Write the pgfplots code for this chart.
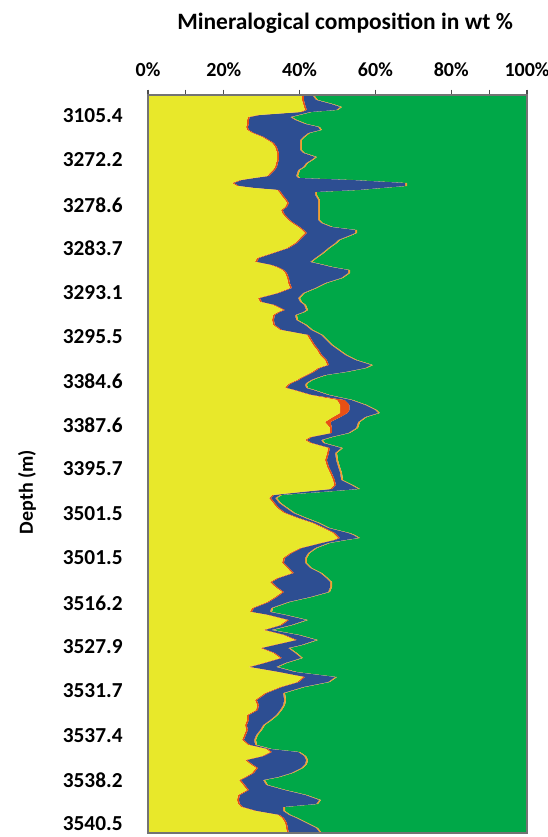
\documentclass[border=0pt]{standalone}
\usepackage{pgfplots}
\usepackage{pgfplotstable}
\pgfplotsset{compat=1.18}
\usepackage{fontspec}
\setmainfont{Carlito}
\definecolor{cyel}{RGB}{232,232,42}
\definecolor{cred}{RGB}{232,80,20}
\definecolor{cblu}{RGB}{45,78,146}
\definecolor{cora}{RGB}{240,160,50}
\definecolor{cgre}{RGB}{0,168,72}
\pgfplotstableread{
pos yel red blu ora gre
0 40.63 0.5 2.17 0.5 56.20
5 40.63 0.5 3.22 0.5 55.15
9 40.90 0.5 6.91 0.5 51.19
12 41.16 0.5 9.03 0.5 48.81
15 41.42 0.5 7.71 0.5 49.87
17 40.11 0.5 2.16 0.5 56.73
20 29.02 0.5 10.09 0.5 59.89
22 26.39 0.5 10.60 0.5 62.01
25 26.12 0.5 12.19 0.5 60.69
29 26.12 0.5 14.83 0.5 58.05
32 25.86 0.5 18.52 0.5 54.62
35 26.12 0.5 18.79 0.5 54.09
38 27.44 0.5 14.30 0.5 57.26
42 30.08 0.5 10.34 0.5 58.58
45 31.40 0.5 8.23 0.5 59.37
48 32.72 0.5 6.91 0.5 59.37
52 33.51 0.5 6.12 0.5 59.37
55 33.77 0.5 5.86 0.5 59.37
58 34.04 0.5 6.38 0.5 58.58
62 34.04 0.5 9.55 0.5 55.41
65 34.04 0.5 8.50 0.5 56.46
68 33.77 0.5 7.45 0.5 57.78
72 33.51 0.5 6.91 0.5 58.58
75 32.98 0.5 6.13 0.5 59.89
78 32.19 0.5 6.65 0.5 60.16
81 31.40 0.5 7.18 0.5 60.42
83 27.70 0.5 11.41 0.5 59.89
85 24.27 0.5 28.82 0.5 45.91
88 22.16 0.5 45.18 0.5 31.66
91 23.48 0.5 43.86 0.5 31.66
93 27.70 0.5 33.31 0.5 37.99
95 34.04 0.5 20.90 0.5 44.06
97 34.56 0.5 9.03 0.5 55.41
100 35.09 0.5 8.50 0.5 55.41
105 36.15 0.5 8.23 0.5 54.62
108 36.68 0.5 7.70 0.5 54.62
112 36.15 0.5 8.23 0.5 54.62
115 35.09 0.5 9.29 0.5 54.62
118 35.36 0.5 9.02 0.5 54.62
122 36.15 0.5 8.23 0.5 54.62
125 36.94 0.5 7.44 0.5 54.62
128 37.99 0.5 7.18 0.5 53.83
132 39.58 0.5 8.23 0.5 51.19
135 40.63 0.5 13.52 0.5 44.85
138 41.42 0.5 12.73 0.5 44.85
141 40.63 0.5 11.67 0.5 46.70
145 39.58 0.5 10.08 0.5 49.34
148 38.79 0.5 10.08 0.5 50.13
153 36.68 0.5 10.34 0.5 51.98
158 32.72 0.5 12.72 0.5 53.56
163 28.76 0.5 14.83 0.5 55.41
167 28.23 0.5 14.04 0.5 56.73
170 32.19 0.5 13.51 0.5 53.30
172 33.77 0.5 14.04 0.5 51.19
175 35.36 0.5 16.94 0.5 46.70
178 36.15 0.5 16.15 0.5 46.70
183 36.68 0.5 13.77 0.5 48.55
188 36.94 0.5 9.29 0.5 52.77
193 37.47 0.5 6.12 0.5 55.41
198 34.04 0.5 6.38 0.5 58.58
203 29.02 0.5 10.09 0.5 59.89
207 29.55 0.5 10.08 0.5 59.37
210 32.98 0.5 7.71 0.5 58.31
215 35.62 0.5 5.60 0.5 57.78
217 34.30 0.5 6.12 0.5 58.58
220 32.98 0.5 5.33 0.5 60.69
225 32.72 0.5 5.86 0.5 60.42
230 32.98 0.5 7.97 0.5 58.05
235 34.83 0.5 7.71 0.5 56.46
240 41.95 0.5 3.22 0.5 53.83
245 42.74 0.5 3.75 0.5 52.51
250 43.54 0.5 4.27 0.5 51.19
255 44.59 0.5 5.07 0.5 49.34
260 45.38 0.5 6.13 0.5 47.49
265 46.70 0.5 7.45 0.5 44.85
270 47.23 0.5 11.14 0.5 40.63
273 44.85 0.5 11.93 0.5 42.22
277 43.27 0.5 8.24 0.5 47.49
280 41.69 0.5 4.54 0.5 52.77
283 40.11 0.5 3.74 0.5 55.15
285 39.31 0.5 3.23 0.5 56.46
288 37.47 0.5 3.75 0.5 57.78
290 36.68 0.5 4.27 0.5 58.05
293 36.15 0.5 5.07 0.5 57.78
295 38.26 0.5 4.80 0.5 55.94
300 42.74 0.5 4.28 0.5 51.98
305 49.87 2.0 1.72 0.5 45.91
310 50.66 2.5 4.12 0.5 42.22
315 50.66 2.5 6.76 0.5 39.58
318 50.66 2.0 8.05 0.5 38.79
322 48.81 2.0 6.47 0.5 42.22
327 46.70 1.5 7.24 0.5 44.06
333 48.02 0.5 6.39 0.5 44.59
338 48.02 0.5 4.28 0.5 46.70
342 42.74 0.5 5.07 0.5 51.19
345 41.42 0.5 3.75 0.5 53.83
348 42.74 0.5 2.96 0.5 53.30
353 47.49 0.5 2.96 0.5 48.55
358 47.23 0.5 1.64 0.5 50.13
365 46.70 0.5 2.43 0.5 49.87
372 47.23 0.5 2.43 0.5 49.34
378 48.02 0.5 2.17 0.5 48.81
385 48.81 0.5 1.64 0.5 48.55
390 49.08 0.5 4.01 0.5 45.91
394 48.02 0.5 6.92 0.5 44.06
397 40.11 0.5 5.06 0.5 53.83
400 32.72 0.5 1.64 0.5 64.64
403 31.93 0.5 1.11 0.5 65.96
408 32.98 0.5 1.11 0.5 64.91
413 34.04 0.5 1.90 0.5 63.06
418 35.88 0.5 1.91 0.5 61.21
423 39.31 0.5 1.64 0.5 58.05
428 43.27 0.5 1.11 0.5 54.62
433 46.17 0.5 0.85 0.5 51.98
438 48.81 0.5 3.49 0.5 46.70
440 49.34 0.5 4.28 0.5 45.38
443 50.13 0.5 4.81 0.5 44.06
445 48.81 0.5 2.70 0.5 47.49
448 45.38 0.5 1.64 0.5 51.98
453 40.11 0.5 3.48 0.5 55.41
458 37.47 0.5 4.27 0.5 57.26
463 35.62 0.5 5.33 0.5 58.05
468 35.36 0.5 5.59 0.5 58.05
473 36.68 0.5 5.59 0.5 56.73
478 37.99 0.5 6.92 0.5 54.09
483 34.04 0.5 12.45 0.5 52.51
487 32.19 0.5 15.36 0.5 51.45
492 33.51 0.5 14.04 0.5 51.45
497 35.36 0.5 11.66 0.5 51.98
502 33.51 0.5 8.76 0.5 56.73
507 31.40 0.5 5.07 0.5 62.53
513 27.44 0.5 4.54 0.5 67.02
517 26.91 0.5 4.81 0.5 67.28
520 31.40 0.5 4.28 0.5 63.32
525 36.68 0.5 4.54 0.5 57.78
530 34.83 0.5 2.43 0.5 61.74
535 30.34 0.5 1.64 0.5 67.02
540 35.62 0.5 3.49 0.5 59.89
545 38.79 0.5 5.06 0.5 55.15
550 32.98 0.5 6.92 0.5 59.10
553 29.55 0.5 6.92 0.5 62.53
558 32.98 0.5 5.33 0.5 60.69
563 34.83 0.5 5.07 0.5 59.10
568 30.34 0.5 5.34 0.5 63.32
572 26.39 0.5 6.91 0.5 65.70
577 34.04 0.5 4.27 0.5 60.69
582 40.90 0.5 7.97 0.5 50.13
587 39.31 0.5 7.71 0.5 51.98
592 34.83 0.5 5.59 0.5 58.58
598 30.87 0.5 4.28 0.5 63.85
605 28.23 0.5 7.18 0.5 63.59
610 28.76 0.5 6.39 0.5 63.85
615 28.50 0.5 5.86 0.5 64.64
620 26.12 0.5 7.18 0.5 65.70
625 26.12 0.5 5.60 0.5 67.28
630 25.59 0.5 4.28 0.5 69.13
635 25.86 0.5 3.22 0.5 69.92
640 25.33 0.5 2.69 0.5 70.98
645 24.80 0.5 2.70 0.5 71.50
650 26.39 0.5 1.37 0.5 71.24
654 31.13 0.5 0.59 0.5 67.28
657 32.19 0.5 6.92 0.5 59.89
661 30.08 0.5 10.61 0.5 58.31
665 25.59 0.5 15.63 0.5 57.78
669 26.91 0.5 14.04 0.5 58.05
673 28.50 0.5 11.40 0.5 59.10
678 27.44 0.5 9.82 0.5 61.74
682 25.59 0.5 8.24 0.5 65.17
685 24.01 0.5 5.86 0.5 69.13
690 25.07 0.5 5.59 0.5 68.34
695 26.12 0.5 9.29 0.5 63.59
700 23.75 0.5 17.20 0.5 58.05
705 23.48 0.5 21.17 0.5 54.35
709 23.75 0.5 20.10 0.5 55.15
712 24.54 0.5 10.61 0.5 63.85
716 28.23 0.5 6.92 0.5 63.85
720 34.30 0.5 2.43 0.5 62.27
723 35.36 0.5 3.22 0.5 60.42
728 36.15 0.5 5.07 0.5 57.78
733 36.41 0.5 7.44 0.5 55.15
738 36.68 0.5 8.23 0.5 54.09
}\data
\begin{document}
\begin{tikzpicture}
\begin{axis}[
  name=ax,
  scale only axis, width=284.25pt, height=553.5pt,
  xmin=0, xmax=100, ymin=0, ymax=738, y dir=reverse,
  stack plots=x,
  axis line style={draw=black!55, line width=0.9pt},
  xtick={0,10,20,40,60,80,90,100},
  xticklabels={0\%,,20\%,40\%,60\%,80\%,,100\%},
  xtick pos=right, xticklabel pos=right,
  tick align=outside, major tick length=4pt,
  xtick style={draw=black!70, line width=0.8pt},
  ytick={21,65,110,153,198,242,286,330,374,419,463,508,552,596,641,685,729},
  yticklabels={3105.4,3272.2,3278.6,3283.7,3293.1,3295.5,3384.6,3387.6,3395.7,3501.5,3501.5,3516.2,3527.9,3531.7,3537.4,3538.2,3540.5},
  ytick style={draw=none},
  xticklabel style={font=\bfseries\fontsize{15}{17}\selectfont, anchor=base, inner sep=0pt, yshift=9.5pt},
  yticklabel style={font=\bfseries\fontsize{16}{18}\selectfont},
  yticklabel shift=11.5pt,
  title={Mineralogical composition in wt \%},
  title style={font=\bfseries\fontsize{17.6}{19}\selectfont, at={(axis description cs:0.52,1.086)}, anchor=center},
  ylabel={Depth (m)},
  ylabel style={font=\bfseries\fontsize{15}{17}\selectfont, at={(axis description cs:-0.3193,0.462)}, anchor=center},
  axis on top,
]
\addplot[draw=none] table[x expr=0, y=pos] \data;
\addplot[fill=cyel, draw=none] table[x=yel, y=pos] \data \closedcycle;
\addplot[fill=cred, draw=none] table[x=red, y=pos] \data \closedcycle;
\addplot[fill=cblu, draw=none] table[x=blu, y=pos] \data \closedcycle;
\addplot[fill=cora, draw=none] table[x=ora, y=pos] \data \closedcycle;
\addplot[fill=cgre, draw=none] table[x=gre, y=pos] \data \closedcycle;
\end{axis}
\pgfresetboundingbox
\path ([xshift=-111pt,yshift=-3pt]ax.south west) rectangle ([xshift=15.75pt,yshift=71.25pt]ax.north east);
\end{tikzpicture}
\end{document}
